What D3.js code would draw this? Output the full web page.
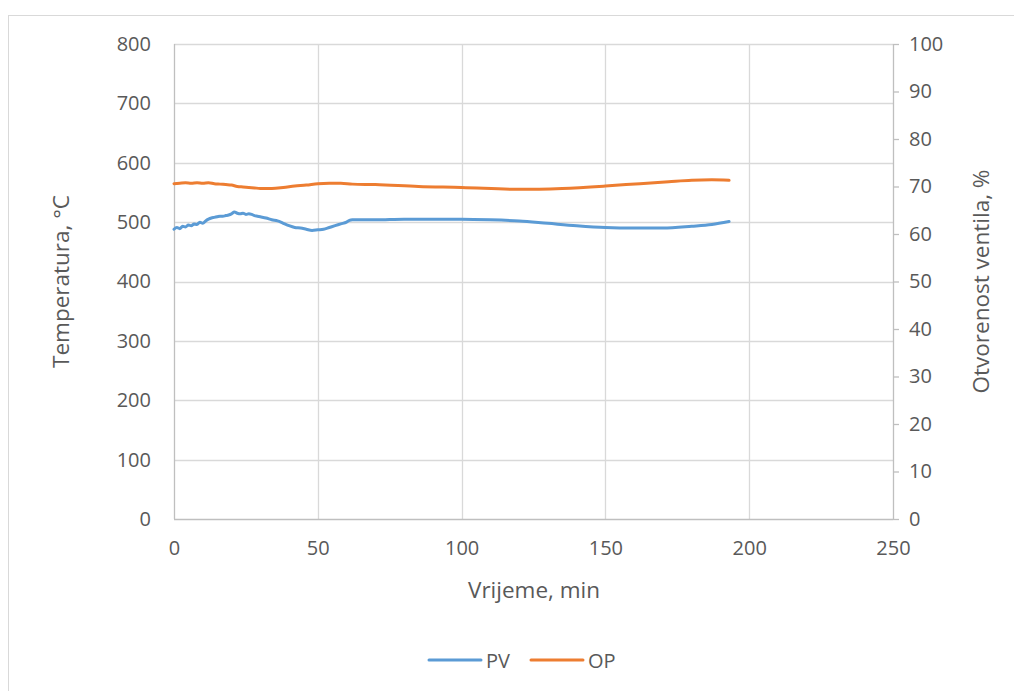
<!DOCTYPE html>
<html><head><meta charset="utf-8">
<script src="https://cdn.jsdelivr.net/npm/d3@7"></script>
<style>body{margin:0;background:#fff}svg{display:block;font-family:"Open Sans","Liberation Sans",sans-serif}</style>
</head><body><svg id="c" width="1014" height="691"></svg>
<script>
const pvTime = [0,1,2,3,4,5,6,7,8,9,10,11,12,13,14,15,16,17,18,19,20,21,22,23,24,25,26,27,28,29,30,32,34,36,38,40,42,44,46,48,50,52,54,56,58,60,61,62,70,80,90,100,110,120,130,140,150,160,170,180,187,193];
const pvTemp = [488,491,489,493,492,495,494,497,496,500,498,502,505,507,508,509,510,510,511,512,514,517,515,514,515,513,514,513,511,510,509,507,504,502,498,494,491,490,488,486,487,488,491,494,497,500,503,504,504,505,505,505,504,502,498,494,491,490,490,493,496,501];
const opTime = [0,2,4,6,8,10,12,14,16,18,20,22,24,26,28,30,34,38,42,46,50,54,58,62,70,85,100,120,135,150,162,172,180,187,193];
const opPct = [70.6,70.7,70.8,70.7,70.8,70.7,70.8,70.6,70.5,70.4,70.3,70.0,69.9,69.8,69.7,69.6,69.6,69.8,70.1,70.3,70.6,70.7,70.7,70.5,70.4,70.0,69.8,69.4,69.6,70.1,70.6,71.0,71.3,71.4,71.3];
const xTicks = [0,50,100,150,200,250];
const yLeftTicks = [0,100,200,300,400,500,600,700,800];
const yRightTicks = [0,10,20,30,40,50,60,70,80,90,100];
const seriesNames = ["PV","OP"];
const colors = ["#5B9BD5","#ED7D31"];

const svg = d3.select("#c");
const L=174, R=893, T=44, B=519;
const x = d3.scaleLinear().domain([0,250]).range([L,R]);
const yL = d3.scaleLinear().domain([0,800]).range([B,T]);
const yR = d3.scaleLinear().domain([0,100]).range([B,T]);
const grid="#d9d9d9", txt="#595959";
const FF="'Open Sans','Liberation Sans',sans-serif";

svg.append("rect").attr("x",8.5).attr("y",15.5).attr("width",1020).attr("height",700).attr("fill","#fff").attr("stroke",grid).attr("stroke-width",1);

// gridlines
svg.append("g").selectAll("line").data(yLeftTicks.slice(1)).join("line")
  .attr("x1",L).attr("x2",R).attr("y1",d=>Math.round(yL(d))+0.5).attr("y2",d=>Math.round(yL(d))+0.5)
  .attr("stroke",grid).attr("stroke-width",1.3);
svg.append("g").selectAll("line").data(xTicks.slice(1,-1)).join("line")
  .attr("x1",d=>Math.round(x(d))+0.5).attr("x2",d=>Math.round(x(d))+0.5).attr("y1",T).attr("y2",B)
  .attr("stroke",grid).attr("stroke-width",1.3);

// axes
const axL = svg.append("g").attr("transform",`translate(${L},0)`).call(d3.axisLeft(yL).tickValues(yLeftTicks).tickSize(0).tickPadding(23));
const axR = svg.append("g").attr("transform",`translate(${R},0)`).call(d3.axisRight(yR).tickValues(yRightTicks).tickSize(6).tickPadding(10));
const axB = svg.append("g").attr("transform",`translate(0,${B})`).call(d3.axisBottom(x).tickValues(xTicks).tickSize(0).tickPadding(22));
[axL,axR,axB].forEach(a=>{
  a.select(".domain").attr("stroke","#bfbfbf").attr("stroke-width",1.3);
  a.selectAll(".tick line").attr("stroke","#bfbfbf").attr("stroke-width",1.3);
  a.selectAll("text").attr("fill",txt).attr("font-size",20).attr("font-family",FF);
});
axB.select(".domain").attr("d",`M${L},0.5H${R}`);
axL.select(".domain").attr("d",`M0.5,${T}V${B}`);
axR.select(".domain").attr("d",`M0.5,${T}V${B}`);

// lines
const pvData = pvTime.map((t,i)=>[t,pvTemp[i]]);
const opData = opTime.map((t,i)=>[t,opPct[i]]);
svg.append("path").datum(pvData).attr("fill","none").attr("stroke",colors[0]).attr("stroke-width",3).attr("stroke-linecap","round").attr("stroke-linejoin","round")
  .attr("d",d3.line().x(d=>x(d[0])).y(d=>yL(d[1])).curve(d3.curveMonotoneX));
svg.append("path").datum(opData).attr("fill","none").attr("stroke",colors[1]).attr("stroke-width",3).attr("stroke-linecap","round").attr("stroke-linejoin","round")
  .attr("d",d3.line().x(d=>x(d[0])).y(d=>yR(d[1])).curve(d3.curveMonotoneX));

// titles
svg.append("text").attr("x",534).attr("y",598).attr("text-anchor","middle").attr("fill",txt).attr("font-size",22.5).text("Vrijeme, min");
svg.append("text").attr("transform",`translate(69,${(T+B)/2}) rotate(-90)`).attr("text-anchor","middle").attr("fill",txt).attr("font-size",22.5).text("Temperatura, °C");
svg.append("text").attr("transform",`translate(989,${(T+B)/2}) rotate(-90)`).attr("text-anchor","middle").attr("fill",txt).attr("font-size",22.5).text("Otvorenost ventila, %");

// legend
const lg = svg.append("g");
const lx=[429,531];
seriesNames.forEach((n,i)=>{
  lg.append("line").attr("x1",lx[i]).attr("x2",lx[i]+52).attr("y1",660).attr("y2",660).attr("stroke",colors[i]).attr("stroke-width",3).attr("stroke-linecap","round");
  lg.append("text").attr("x",lx[i]+57).attr("y",667.5).attr("fill",txt).attr("font-size",20).text(n);
});
</script></body></html>
